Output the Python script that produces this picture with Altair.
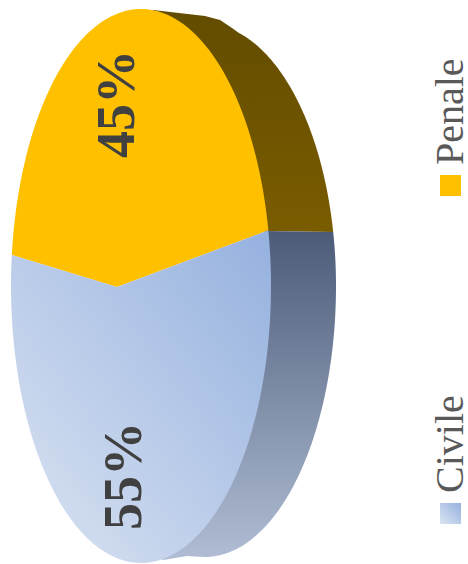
import math
import altair as alt
import pandas as pd

# Slices, clockwise from the left edge of the disc
categories = ["Penale", "Civile"]
shares = [45, 55]

W, H = 468, 564
FACE = dict(cx=141, cy=286, a=130, b=277)
UNDER_FACE = dict(cx=141, cy=286, a=126, b=273)
RIM_UPPER = dict(cx=205, cy=286, a=131, b=262)
RIM_LOWER = dict(cx=205, cy=286, a=131, b=271)
RIM_TOP_EDGE = [(153, 10), (205, 16), (220, 20), (232, 28)]
RIM_BOTTOM_EDGE = [(187, 556), (163, 560)]
APEX = (117, 287)
START_DEG = 186.4
SERIF = "Liberation Serif"

x_scale = alt.Scale(domain=[0, W], range=[0, W])
y_scale = alt.Scale(domain=[0, H], range=[0, H])


def on_ellipse(e, deg):
    t = math.radians(deg)
    return e["cx"] + e["a"] * math.cos(t), e["cy"] + e["b"] * math.sin(t)


def arc(e, a0, a1, steps=90):
    return [on_ellipse(e, a0 + (a1 - a0) * k / steps) for k in range(steps + 1)]


def gradient(c0, c1, x1=0, y1=0, x2=0, y2=1):
    return alt.Gradient(
        gradient="linear", x1=x1, y1=y1, x2=x2, y2=y2,
        stops=[alt.GradientStop(color=c0, offset=0), alt.GradientStop(color=c1, offset=1)],
    )


def polygon(points, fill):
    frame = pd.DataFrame(points, columns=["x", "y"]).assign(i=range(len(points)))
    return alt.Chart(frame).mark_line(fill=fill, stroke="transparent", strokeWidth=0, interpolate="linear").encode(
        x=alt.X("x:Q", scale=x_scale, axis=None),
        y=alt.Y("y:Q", scale=y_scale, axis=None),
        order="i:Q",
    )


penale_end = START_DEG + shares[0] / sum(shares) * 360
civile_end = penale_end + shares[1] / sum(shares) * 360
rim_split = 348.1

civile_fill = gradient("#dbe4f2", "#95b1df", x1=0, y1=1, x2=1, y2=0)
penale_fill = "#FFC000"

# Side wall, drawn first; its inner edge runs under the front face
brown_wall = polygon(
    RIM_TOP_EDGE + arc(RIM_UPPER, 285, rim_split) + arc(UNDER_FACE, penale_end, 275),
    gradient("#624c00", "#7a5c00"),
)
blue_wall = polygon(
    arc(RIM_UPPER, rim_split, 360) + arc(RIM_LOWER, 360, 360 + 93) + RIM_BOTTOM_EDGE
    + arc(UNDER_FACE, 360 + 82, penale_end),
    gradient("#4c5b78", "#b0bdd4"),
)

# Front face
penale_face = polygon([APEX] + arc(FACE, START_DEG, penale_end), penale_fill)
civile_face = polygon([APEX] + arc(FACE, penale_end, civile_end), civile_fill)

# Value labels, written sideways along the disc
value_labels = pd.DataFrame({
    "x": [134, 141],
    "y": [158, 530],
    "label": [f"{v}%" for v in shares],
})
values = alt.Chart(value_labels).mark_text(
    font=SERIF, fontSize=54, fontWeight="bold", color="#404040",
    angle=270, align="left", baseline="alphabetic",
).encode(
    x=alt.X("x:Q", scale=x_scale, axis=None),
    y=alt.Y("y:Q", scale=y_scale, axis=None),
    text="label:N",
)

# Legend, turned with the rest of the drawing
legend_text = pd.DataFrame({"x": [463, 463], "y": [165, 493], "label": categories})
legend_labels = alt.Chart(legend_text).mark_text(
    font=SERIF, fontSize=40, color="#595959",
    angle=270, align="left", baseline="alphabetic",
).encode(
    x=alt.X("x:Q", scale=x_scale, axis=None),
    y=alt.Y("y:Q", scale=y_scale, axis=None),
    text="label:N",
)


def swatch(y, fill):
    frame = pd.DataFrame({"x": [450.5], "y": [y]})
    return alt.Chart(frame).mark_square(fill=fill, size=441, opacity=1, strokeWidth=0).encode(
        x=alt.X("x:Q", scale=x_scale, axis=None),
        y=alt.Y("y:Q", scale=y_scale, axis=None),
    )


chart = alt.layer(
    brown_wall, blue_wall, penale_face, civile_face, values,
    legend_labels, swatch(185.5, penale_fill), swatch(513.5, civile_fill),
).properties(
    width=W, height=H, padding=0, autosize=alt.AutoSizeParams(type="none"),
).configure_view(stroke=None)

chart.save("out.html", embed_options={"renderer": "svg", "actions": False})
